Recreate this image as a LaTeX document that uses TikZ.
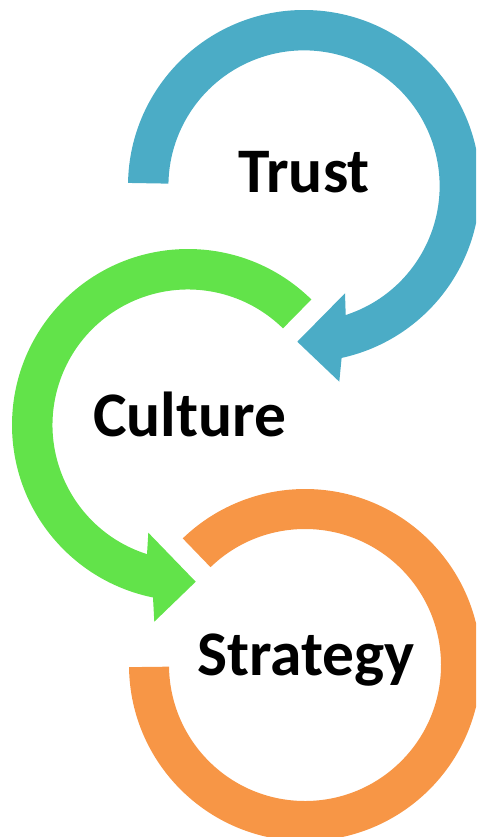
\documentclass[tikz,border=0pt]{standalone}
\usepackage{fontspec}
\setmainfont{Carlito}
\definecolor{ringblue}{HTML}{4BACC6}
\definecolor{ringgreen}{HTML}{62E34A}
\definecolor{ringorange}{HTML}{F79646}
\begin{document}
\begin{tikzpicture}[x=1pt,y=-1pt,
  word/.style={inner sep=0pt, anchor=base west, font=\bfseries\fontsize{63.5}{68}\selectfont}]
\useasboundingbox (0,0) rectangle (476,837);
\clip (0,0) rectangle (476,837);

% blue circular arrow, clockwise from the left
\begin{scope}[shift={(304,186)}]
  \fill[ringblue] (181:176) arc[start angle=181, end angle=437.66, radius=176]
    -- (35.3,195.7) -- (-6.7,155.7) -- (41,107.3)
    -- (72.09:135.6) arc[start angle=72.09, end angle=-179, radius=135.6] -- cycle;
\end{scope}

% green circular arrow, counter-clockwise from the upper right
\begin{scope}[shift={(188,425)}]
  \fill[ringgreen] (-45.5:176) arc[start angle=-45.5, end angle=-258.53, radius=176]
    -- (-33.7,196.7) -- (7.7,156.7) -- (-39.7,107.7)
    -- (107.6:135.5) arc[start angle=107.6, end angle=314.5, radius=135.5] -- cycle;
\end{scope}

% orange open ring
\begin{scope}[shift={(305,665)}]
  \fill[ringorange] (179.3:176) arc[start angle=179.3, end angle=-134, radius=176]
    -- (-134:136) arc[start angle=-134, end angle=179.3, radius=136] -- cycle;
\end{scope}

\node[word] (trust) at (238,193) {Trust};
\node[word] (culture) at (93,436) {Culture};
\node[word] (strategy) at (197,675) {Strategy};
\end{tikzpicture}
\end{document}
